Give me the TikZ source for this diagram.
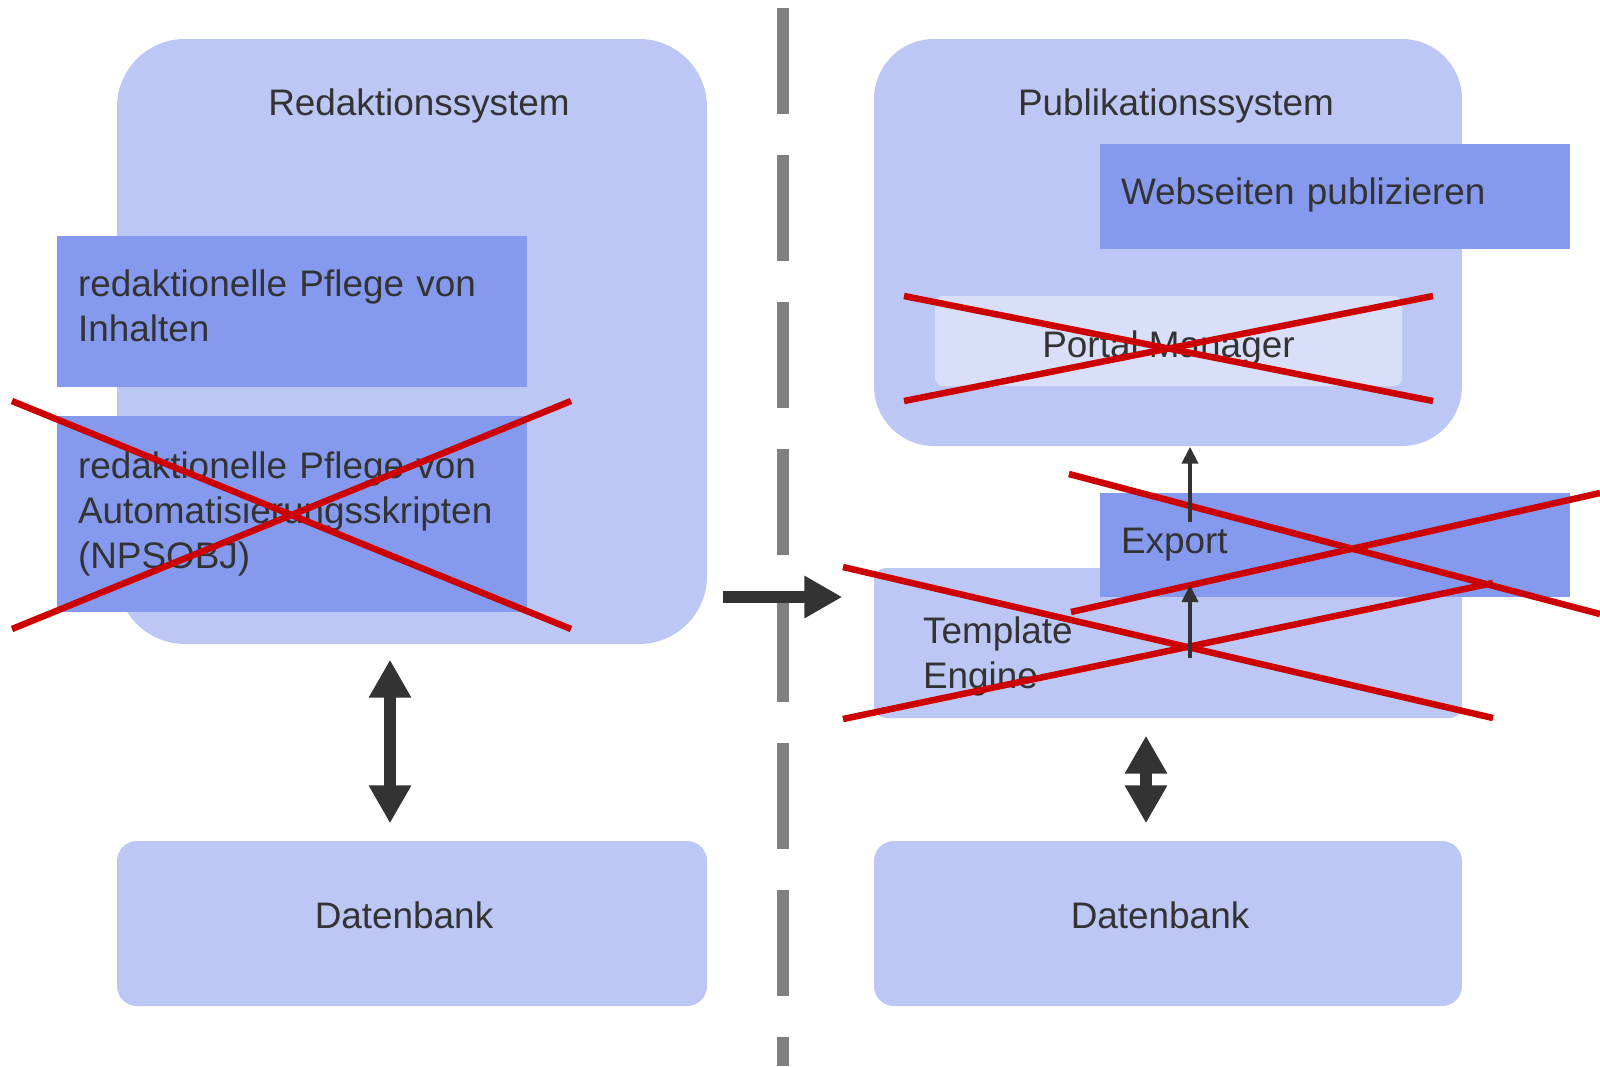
\documentclass[tikz,border=0pt]{standalone}
\usepackage{fontspec}
\setmainfont{Liberation Sans}
\usetikzlibrary{arrows.meta, positioning, calc}
\definecolor{boxlight}{HTML}{BDC7F5}
\definecolor{boxdark}{HTML}{8599EE}
\definecolor{boxpale}{HTML}{DADFF9}
\definecolor{txtgray}{HTML}{333333}
\definecolor{sepgray}{HTML}{808080}
\definecolor{strikered}{HTML}{CC0000}

\begin{document}
\begin{tikzpicture}[x=0.1mm, y=-0.1mm,
  every node/.style={font=\fontsize{10.5}{12.8}\selectfont, text=txtgray},
  sysbox/.style={fill=boxlight, minimum width=59mm},
  dbbox/.style={fill=boxlight, rounded corners=2mm, minimum width=59mm, minimum height=16.5mm,
    label={[shift={(-8,-8)}]center:Datenbank}},
  darkbox/.style={fill=boxdark, inner xsep=2.1mm, minimum width=47mm, text width=42.8mm, align=left},
  strike/.style={draw=strikered, line width=0.65mm},
  bigarrow/.style={draw=txtgray, line width=1.2mm, >={Triangle[width=4mm, length=3.8mm]}},
  smallarrow/.style={draw=txtgray, line width=0.4mm, -{Triangle[width=1.6mm, length=1.7mm]}}]
  \useasboundingbox (0,0) rectangle (1600,1066);

  % Separator
  \draw[sepgray, line width=1.2mm, dash pattern=on 10.6mm off 4.1mm] (783,8) -- (783,1066);

  % Redaktionssystem
  \node[sysbox, rounded corners=6.8mm, minimum height=60.5mm] (redsys) at (412,341.5) {};
  \node (redtitle) at (419,106) {Redaktionssystem};
  \node[darkbox, minimum height=15.1mm] (pflege) at (292,311.5) {redaktionelle Pflege von\\Inhalten\rule[-1.2mm]{0pt}{1.2mm}};
  \node[darkbox, minimum height=19.6mm] (skripte) at (292,514) {redaktionelle Pflege von\\Automatisierungsskripten\\(NPSOBJ)};
  \node[dbbox] (db1) at (412,923.5) {};

  % Publikationssystem
  \node[sysbox, rounded corners=6mm, minimum width=58.8mm, minimum height=40.7mm] (pubsys) at (1168,242.5) {};
  \node (pubtitle) at (1176,106) {Publikationssystem};
  \node[darkbox, text width=42.7mm, minimum height=10.5mm, text depth=1.1mm] (web) at (1334.5,196.5) {Webseiten publizieren};
  \node[fill=boxpale, rounded corners=0.8mm, minimum width=46.7mm, minimum height=9mm, text height=4.1mm] (portal) at (1168.5,341) {Portal Manager};
  \node[fill=boxlight, rounded corners=1.2mm, minimum width=58.8mm, minimum height=15mm] (tmpl) at (1168,643) {};
  \node[anchor=west, align=left, inner sep=0pt] (tmpltext) at ($(tmpl.west)+(49,13.5)$) {Template\\Engine};
  \node[darkbox, text width=42.7mm, minimum height=10.4mm] (export) at (1334.5,545) {Export};
  \node[dbbox, minimum width=58.8mm] (db2) at (1168,923.5) {};

  % Crossed out parts
  \draw[strike] (12,401) -- (571,629);
  \draw[strike] (12,629) -- (571,401);
  \draw[strike] (904,296) -- (1433,401);
  \draw[strike] (904,401) -- (1433,296);
  \draw[strike] (843,567) -- (1493,718);
  \draw[strike] (843,719) -- (1493,583);
  \draw[strike] (1069,474) -- (1600,614);
  \draw[strike] (1071,612) -- (1600,493);

  % Arrows
  \coordinate (leftarr) at (390,0);
  \coordinate (rightarr) at (1146,0);
  \coordinate (midarr) at (0,597);
  \coordinate (upA) at (1190,522);
  \coordinate (upB) at (1190,658);
  \coordinate (upBtip) at (1190,585);
  \draw[bigarrow, <->, shorten <=1.5mm, shorten >=1.7mm] (redsys.south -| leftarr) -- (db1.north -| leftarr);
  \draw[bigarrow, <->, shorten <=1.7mm, shorten >=1.7mm] (tmpl.south -| rightarr) -- (db2.north -| rightarr);
  \draw[bigarrow, ->, shorten <=1.5mm, shorten >=3.1mm] (redsys.east |- midarr) -- (tmpl.west |- midarr);
  \draw[smallarrow] (upA) -- (pubsys.south -| upA);
  \draw[smallarrow] (upB) -- (upBtip);
\end{tikzpicture}
\end{document}
